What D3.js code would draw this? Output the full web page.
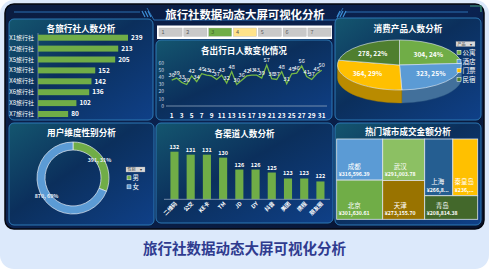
<!DOCTYPE html>
<html>
<head>
<meta charset="utf-8">
<script src="https://cdn.jsdelivr.net/npm/d3@7"></script>
<style>
html, body { margin: 0; padding: 0; background: #fff; }
svg { display: block; font-family: "Noto Sans CJK SC", "Noto Sans", sans-serif; }
</style>
</head>
<body>
<svg id="chart" width="489" height="269"></svg>
<script>
// ---- donnees ----
var pageTitle = "旅行社数据动态大屏可视化分析";

var agencies = ["X1旅行社", "X2旅行社", "X5旅行社", "X3旅行社", "X4旅行社", "X6旅行社", "X8旅行社", "X7旅行社"];
var agencyCounts = [239, 213, 205, 152, 142, 136, 102, 80];

var slicerItems = ["1", "2", "3", "4", "5", "6", "7"];
var slicerSelected = "3";
var slicerHover = "4";

var days = d3.range(1, 32);
var dayCounts = [36, 39, 33, 30, 42, 34, 45, 43, 42, 37, 43, 32, 48, 30, 36, 42,
                 43, 43, 39, 57, 38, 37, 48, 31, 45, 46, 56, 41, 37, 45, 50];
var dayTicksY = [0, 10, 20, 30, 40, 50, 60];

var products = ["公寓", "酒店", "门票", "民宿"];
var productCounts = [304, 323, 364, 278];
var productColors = ["#70ad47", "#5b9bd5", "#ffc000", "#4f7f2f"];

var genders = ["男", "女"];
var genderCounts = [391, 870];
var genderColors = ["#70ad47", "#5b9bd5"];

var channels = ["二维码", "公交", "KE卡", "TM", "JD", "DY", "抖音", "美团", "携程", "朋友圈"];
var channelCounts = [132, 131, 131, 130, 126, 126, 125, 123, 123, 122];

var cities = ["成都", "北京", "武汉", "天津", "上海", "秦皇岛", "青岛"];
var cityAmounts = [316596.39, 301630.61, 291003.78, 273155.70, 266830.00, 236420.00, 208814.38];
var cityColors = ["#5b9bd5", "#70ad47", "#8cc063", "#997300", "#255e91", "#ffc000", "#43682b"];
// regroupement du treemap tel qu'Excel l'a pose
var cityGroups = [["成都", "北京"], ["武汉", "天津"], [["上海", "秦皇岛"], "青岛"]];

///////////////////////////////////////////

let svg = d3.select("#chart");
let defs = svg.append("defs");

let bgGrad = defs.append("linearGradient").attr("id", "bg")
    .attr("x1", 0).attr("y1", 0).attr("x2", 1).attr("y2", 1);
bgGrad.append("stop").attr("offset", 0).attr("stop-color", "#0b1c40");
bgGrad.append("stop").attr("offset", 0.5).attr("stop-color", "#0a2250");
bgGrad.append("stop").attr("offset", 1).attr("stop-color", "#07122c");

let pGrad = defs.append("linearGradient").attr("id", "pg")
    .attr("x1", 0).attr("y1", 0).attr("x2", 1).attr("y2", 1);
pGrad.append("stop").attr("offset", 0).attr("stop-color", "#14566f");
pGrad.append("stop").attr("offset", 0.45).attr("stop-color", "#0b2f5c");
pGrad.append("stop").attr("offset", 1).attr("stop-color", "#0f4088");

// fond de page
svg.append("rect").attr("width", 489).attr("height", 269).attr("rx", 14)
    .attr("fill", "#dce9fb");
svg.append("rect").attr("x", 5).attr("y", 4).attr("width", 479).attr("height", 225)
    .attr("rx", 9).attr("fill", "url(#bg)").attr("stroke", "#04070f").attr("stroke-width", 1.5);

svg.append("text").attr("x", 244.5).attr("y", 254)
    .attr("text-anchor", "middle").attr("font-size", 14.5).attr("font-weight", "bold")
    .attr("fill", "#2f3b8f").text(pageTitle);

// entete
let head = svg.append("g").attr("fill", "none").attr("stroke", "#2b6fb2").attr("stroke-width", 1);
head.append("path").attr("d", "M14 12 H140 M345 12 H468");
head.append("path").attr("d", "M147 8 L154 20 H336 L343 8");
head.append("path").attr("stroke", "#3d8fd6").attr("stroke-width", 1.2)
    .attr("d", "M142 11 l3 6 M145 11 l3 6 M148 11 l3 6 M337 17 l3 -6 M340 17 l3 -6 M343 17 l3 -6");
head.append("path").attr("stroke", "#3f9a7a").attr("stroke-width", 1.2)
    .attr("d", "M470 6 H481 V12");
svg.append("text").attr("x", 245).attr("y", 18.5).attr("text-anchor", "middle")
    .attr("font-size", 11.4).attr("font-weight", "bold").attr("fill", "#fff").text(pageTitle);

function panel(x, y, w, h, title, ty){
    svg.append("rect").attr("x", x).attr("y", y).attr("width", w).attr("height", h)
        .attr("rx", 5).attr("fill", "url(#pg)")
        .attr("stroke", "#2d79b5").attr("stroke-width", 1);
    if (title) {
        svg.append("text").attr("x", x + w / 2).attr("y", ty)
            .attr("text-anchor", "middle").attr("font-size", 8.6).attr("font-weight", "bold")
            .attr("fill", "#fff").text(title);
    }
}

panel(9, 19, 144, 101, "各旅行社人数分析", 31.5);
panel(156, 40, 176, 80, "各出行日人数变化情况", 53.5);
panel(335, 18, 146, 102, "消费产品人数分析", 32);
panel(9, 123, 145, 102, "用户维度性别分析", 136);
panel(156, 123, 177, 100, "各渠道人数分析", 136.5);
panel(335, 123, 146, 102, "热门城市成交金额分析", 134.5);

// ---- 1. barres horizontales ----
function drawAgencyBars(){
    let x = d3.scaleLinear().domain([0, 239]).range([38, 128]);
    let y = d3.scaleBand().domain(agencies).range([29.8, 121.9]).padding(0.45);
    let g = svg.append("g");
    g.append("line").attr("x1", 38).attr("x2", 38).attr("y1", 33).attr("y2", 118.5)
        .attr("stroke", "#7f96b3").attr("stroke-width", 0.8);
    g.selectAll("rect.ag").data(agencies).enter().append("rect")
        .attr("x", x(0)).attr("y", d => y(d))
        .attr("width", (d, i) => x(agencyCounts[i]) - x(0))
        .attr("height", y.bandwidth()).attr("fill", "#70ad47");
    g.selectAll("text.lab").data(agencies).enter().append("text")
        .attr("x", 34).attr("y", d => y(d) + y.bandwidth() / 2 + 2)
        .attr("text-anchor", "end").attr("font-size", 6).attr("fill", "#fff").text(d => d);
    g.selectAll("text.val").data(agencies).enter().append("text")
        .attr("x", (d, i) => x(agencyCounts[i]) + 3).attr("y", d => y(d) + y.bandwidth() / 2 + 2.3)
        .attr("font-size", 6.5).attr("font-weight", "bold").attr("fill", "#fff")
        .text((d, i) => agencyCounts[i]);
}

// ---- 2. segment + ligne ----
function drawSlicer(){
    svg.append("rect").attr("x", 157).attr("y", 25.5).attr("width", 175).attr("height", 13.5)
        .attr("fill", "#fff");
    let x = d3.scaleBand().domain(slicerItems).range([159, 331]).paddingInner(0.07);
    let g = svg.append("g");
    g.selectAll("rect").data(slicerItems).enter().append("rect")
        .attr("x", d => x(d)).attr("y", 28).attr("width", x.bandwidth()).attr("height", 8.3)
        .attr("fill", d => d === slicerSelected ? "#70ad47" : d === slicerHover ? "#ffe38a" : "#c9c9c9")
        .attr("stroke", "#b3b3b3").attr("stroke-width", 0.4);
    g.selectAll("text").data(slicerItems).enter().append("text")
        .attr("x", d => x(d) + 2.5).attr("y", 34.3)
        .attr("font-size", 5.5).attr("fill", d => d === slicerSelected ? "#3d5f26" : "#5a5a5a").text(d => d);
}

function drawDayLine(){
    let x = d3.scaleLinear().domain([1, 31]).range([171.7, 321.7]);
    let y = d3.scaleLinear().domain([0, 60]).range([106, 63]);
    let g = svg.append("g");
    g.append("line").attr("x1", 166).attr("x2", 327).attr("y1", y(0)).attr("y2", y(0))
        .attr("stroke", "#8ea3bd").attr("stroke-width", 0.8);
    g.selectAll("text.yt").data(dayTicksY).enter().append("text")
        .attr("x", 164).attr("y", d => y(d) + 1.8).attr("text-anchor", "end")
        .attr("font-size", 5).attr("fill", "#c9d3e2").text(d => d);
    g.selectAll("text.xt").data(days.filter(d => d % 2 === 1)).enter().append("text")
        .attr("x", d => x(d)).attr("y", 118).attr("text-anchor", "middle")
        .attr("font-size", 6.5).attr("font-weight", "bold").attr("fill", "#fff").text(d => d);
    let line = d3.line().x((d, i) => x(days[i])).y(d => y(d));
    g.append("path").attr("d", line(dayCounts)).attr("fill", "none")
        .attr("stroke", "#76b947").attr("stroke-width", 1.3);
    g.selectAll("text.pv").data(dayCounts).enter().append("text")
        .attr("x", (d, i) => x(days[i])).attr("y", d => y(d) - 3)
        .attr("text-anchor", "middle").attr("font-size", 5.6).attr("fill", "#fff").text(d => d);
}

// ---- 3. camembert 3D ----
function drawPie3D(){
    let cx = 399.5, cy = 65, rx = 62, ry = 25, depth = 13;
    let pie = d3.pie().sort(null).value(d => d);
    let arcs = pie(productCounts);
    let total = d3.sum(productCounts);
    function pt(a, dy){ return [cx + rx * Math.sin(a), cy - ry * Math.cos(a) + (dy || 0)]; }
    let g = svg.append("g");
    arcs.forEach((a, i) => {
        let s = Math.max(a.startAngle, Math.PI / 2), e = Math.min(a.endAngle, 3 * Math.PI / 2);
        if (s < e) {
            let p0 = pt(s), p1 = pt(e), p2 = pt(e, depth), p3 = pt(s, depth);
            g.append("path")
                .attr("d", "M" + p0 + " A" + rx + " " + ry + " 0 0 1 " + p1 + " L" + p2 +
                    " A" + rx + " " + ry + " 0 0 0 " + p3 + " Z")
                .attr("fill", d3.color(productColors[i]).darker(0.9))
                .attr("stroke", d3.color(productColors[i]).darker(1.2)).attr("stroke-width", 0.4);
        }
    });
    arcs.forEach((a, i) => {
        let p0 = pt(a.startAngle), p1 = pt(a.endAngle);
        let large = (a.endAngle - a.startAngle) > Math.PI ? 1 : 0;
        g.append("path")
            .attr("d", "M" + cx + "," + cy + " L" + p0 + " A" + rx + " " + ry + " 0 " + large + " 1 " + p1 + " Z")
            .attr("fill", productColors[i]).attr("stroke", "#e8eef5").attr("stroke-width", 0.6);
    });
    arcs.forEach((a, i) => {
        let m = (a.startAngle + a.endAngle) / 2;
        g.append("text")
            .attr("x", cx + 0.68 * rx * Math.sin(m)).attr("y", cy - 0.55 * ry * Math.cos(m) + 2)
            .attr("text-anchor", "middle").attr("font-size", 6.6).attr("font-weight", "bold")
            .attr("fill", "#fff")
            .text(productCounts[i] + ", " + Math.round(productCounts[i] / total * 100) + "%");
    });
    legend(456, 41.5, "产品", products, productColors, 9);
}

function legend(x, y, name, items, colors, step){
    let g = svg.append("g");
    g.append("rect").attr("x", x).attr("y", y).attr("width", 19).attr("height", 5)
        .attr("fill", "#d9d9d9").attr("stroke", "#9a9a9a").attr("stroke-width", 0.3);
    g.append("text").attr("x", x + 1.5).attr("y", y + 4).attr("font-size", 4)
        .attr("fill", "#333").text(name);
    g.append("text").attr("x", x + 14).attr("y", y + 4).attr("font-size", 4)
        .attr("fill", "#333").text("▾");
    items.forEach((d, i) => {
        let yy = y + 11 + i * step;
        g.append("rect").attr("x", x + 1).attr("y", yy - 2.2).attr("width", 4).attr("height", 4)
            .attr("fill", colors[i]).attr("stroke", "#fff").attr("stroke-width", 0.5);
        g.append("text").attr("x", x + 6.5).attr("y", yy + 2.2).attr("font-size", 6.5)
            .attr("fill", "#fff").text(d);
    });
}

// ---- 4. anneau ----
function drawDonut(){
    let cx = 73, cy = 178;
    let pie = d3.pie().sort(null).value(d => d);
    let arc = d3.arc().innerRadius(28).outerRadius(36);
    let total = d3.sum(genderCounts);
    let g = svg.append("g").attr("transform", "translate(" + cx + "," + cy + ")");
    let arcs = pie(genderCounts);
    g.selectAll("path").data(arcs).enter().append("path")
        .attr("d", arc).attr("fill", (d, i) => genderColors[i])
        .attr("stroke", "#e6edf5").attr("stroke-width", 0.7);
    g.selectAll("text").data(arcs).enter().append("text")
        .attr("transform", d => { let c = arc.centroid(d); return "translate(" + c[0] + "," + (c[1] + 2) + ")"; })
        .attr("text-anchor", "middle").attr("font-size", 5.3).attr("font-weight", "bold")
        .attr("fill", "#e8eef6")
        .text((d, i) => genderCounts[i] + ", " + Math.round(genderCounts[i] / total * 100) + "%");
    legend(126, 167, "性别", genders, genderColors, 9);
}

// ---- 5. barres verticales ----
function drawChannelBars(){
    let x = d3.scaleBand().domain(channels).range([162.3, 332.6]).padding(0.5);
    let y = d3.scaleLinear().domain([116, 132]).range([199.3, 151.7]);
    let g = svg.append("g");
    g.selectAll("rect").data(channels).enter().append("rect")
        .attr("x", d => x(d)).attr("y", (d, i) => y(channelCounts[i]))
        .attr("width", x.bandwidth()).attr("height", (d, i) => y(116) - y(channelCounts[i]))
        .attr("fill", "#70ad47");
    g.append("line").attr("x1", 164).attr("x2", 330).attr("y1", y(116)).attr("y2", y(116))
        .attr("stroke", "#8ea3bd").attr("stroke-width", 0.8);
    g.selectAll("text.v").data(channels).enter().append("text")
        .attr("x", d => x(d) + x.bandwidth() / 2).attr("y", (d, i) => y(channelCounts[i]) - 3)
        .attr("text-anchor", "middle").attr("font-size", 5.5).attr("font-weight", "bold")
        .attr("fill", "#fff").text((d, i) => channelCounts[i]);
    g.selectAll("text.c").data(channels).enter().append("text")
        .attr("transform", d => "translate(" + (x(d) + x.bandwidth() / 2 + 3) + "," + 204 + ") rotate(-45)")
        .attr("text-anchor", "end").attr("font-size", 5.5).attr("font-weight", "bold")
        .attr("fill", "#fff").text(d => d);
}

// ---- 6. treemap ----
function drawTreemap(){
    function build(node){
        if (Array.isArray(node)) return { children: node.map(build) };
        let i = cities.indexOf(node);
        return { name: node, value: cityAmounts[i], color: cityColors[i] };
    }
    let root = d3.hierarchy(build(cityGroups)).sum(d => d.value || 0);
    d3.treemap()
        .tile((node, x0, y0, x1, y1) => (node.depth % 2 === 0 ? d3.treemapDice : d3.treemapSlice)(node, x0, y0, x1, y1))
        .size([141, 80.3])(root);
    let g = svg.append("g").attr("transform", "translate(336.7,139)");
    let leaves = root.leaves();
    g.selectAll("rect").data(leaves).enter().append("rect")
        .attr("x", d => d.x0).attr("y", d => d.y0)
        .attr("width", d => d.x1 - d.x0).attr("height", d => d.y1 - d.y0)
        .attr("fill", d => d.data.color).attr("stroke", "#dfe6ee").attr("stroke-width", 0.8);
    let fmt = d3.format(",.2f");
    leaves.forEach(d => {
        let maxW = d.x1 - d.x0 - 4;
        let full = "¥" + fmt(d.data.value);
        let t = g.append("text").attr("x", d.x0 + 2).attr("y", d.y1 - 4)
            .attr("font-size", 5.2).attr("font-weight", "bold").attr("fill", "#fff").text(full);
        let s = full;
        while (t.node().getComputedTextLength() > maxW && s.length > 2) {
            s = s.slice(0, -1);
            t.text(s + "...");
        }
        let w = t.node().getComputedTextLength();
        g.append("text").attr("x", d.x0 + 2 + w / 2).attr("y", d.y1 - 11.5)
            .attr("text-anchor", "middle").attr("font-size", 6.5).attr("fill", "#fff").text(d.data.name);
    });
}

drawAgencyBars();
drawSlicer();
drawDayLine();
drawPie3D();
drawDonut();
drawChannelBars();
drawTreemap();
</script>
</body>
</html>
